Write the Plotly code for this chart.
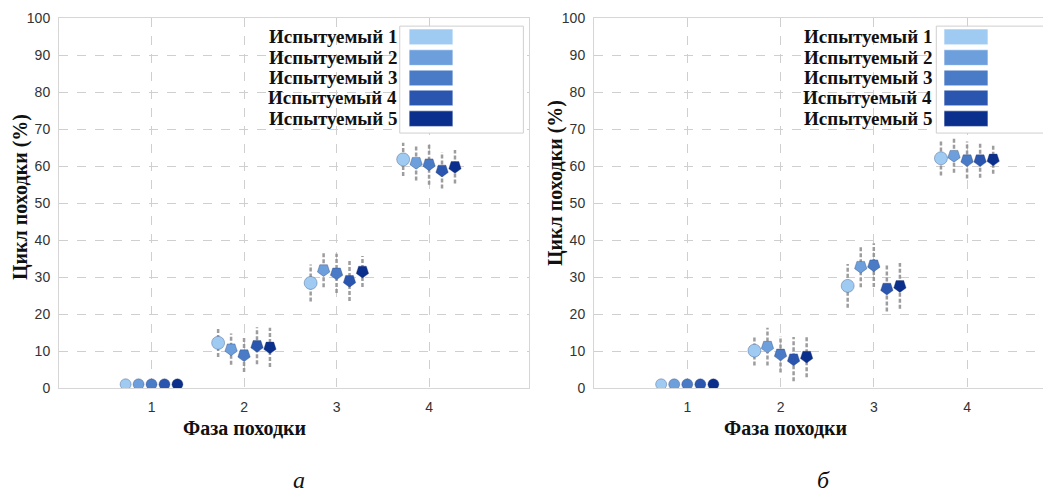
import plotly.graph_objects as go

phases = [1, 2, 3, 4]
subjects = ["Испытуемый 1", "Испытуемый 2", "Испытуемый 3", "Испытуемый 4", "Испытуемый 5"]
colors = ["#9fcbf3", "#6d9fdc", "#4a7bc7", "#2a56b0", "#0b2f8c"]
offsets = [-0.28, -0.14, 0.0, 0.14, 0.28]

# panel а
mean_a = [
    [1.0, 12.2, 28.4, 61.8],
    [1.0, 10.5, 31.9, 60.9],
    [1.0, 8.9, 31.0, 60.5],
    [1.0, 11.4, 29.0, 58.8],
    [1.0, 11.0, 31.5, 59.8],
]
err_a = [
    [0, 3.8, 5.0, 4.5],
    [0, 4.2, 4.7, 4.8],
    [0, 4.6, 5.3, 5.6],
    [0, 5.0, 5.5, 4.9],
    [0, 5.3, 4.2, 4.5],
]
# panel б
mean_b = [
    [1.0, 10.1, 27.6, 62.1],
    [1.0, 11.2, 32.8, 62.8],
    [1.0, 9.1, 33.2, 61.6],
    [1.0, 7.8, 26.9, 61.6],
    [1.0, 8.5, 27.6, 61.8],
]
err_b = [
    [0, 4.0, 5.9, 4.7],
    [0, 5.1, 5.6, 4.6],
    [0, 4.9, 5.9, 5.0],
    [0, 6.0, 6.2, 4.8],
    [0, 5.6, 6.2, 3.9],
]

y_ticks = list(range(0, 101, 10))
x_title = "Фаза походки"
y_title = "Цикл походки (%)"
panel_labels = ["а", "б"]

# page body has an 8px default margin: lay out in window pixels, then convert
OFF = 8
W, H = 1051 - OFF, 493 - OFF


def px(X):
    return (X - OFF) / W


def py(Y):
    return 1 - (Y - OFF) / H


fig = go.Figure()

serif = "Liberation Serif, Times New Roman, serif"
sans = "Liberation Sans, Arial, sans-serif"

panels = [("x", "y", mean_a, err_a), ("x2", "y2", mean_b, err_b)]
for xa, ya, means, errs in panels:
    # error bars
    for si in range(5):
        xs, ys = [], []
        for pi, ph in enumerate(phases):
            e = errs[si][pi]
            if e <= 0:
                continue
            xv = ph + offsets[si]
            m = means[si][pi]
            xs += [xv, xv, None]
            ys += [m - e, m + e, None]
        fig.add_trace(go.Scatter(x=xs, y=ys, mode="lines", xaxis=xa, yaxis=ya,
                                 line=dict(color="rgba(140,140,140,0.85)", width=2.5, dash="4px,2px"),
                                 showlegend=False, hoverinfo="skip"))
    # markers
    for si in range(5):
        xs = [ph + offsets[si] for ph in phases]
        symbols = ["circle" if (si == 0 or pi == 0) else "pentagon" for pi in range(4)]
        angles = [0 if s == "circle" else 180 for s in symbols]
        sizes = [11 if pi == 0 else 13 for pi in range(4)]
        fig.add_trace(go.Scatter(x=xs, y=means[si], mode="markers", xaxis=xa, yaxis=ya,
                                 name=subjects[si], showlegend=False,
                                 marker=dict(color=colors[si], size=sizes, symbol=symbols, angle=angles,
                                             opacity=1,
                                             line=dict(color="rgba(40,60,110,0.35)", width=1))))

axis_common = dict(showgrid=True, gridcolor="#cfcfcf", griddash="dash", gridwidth=1,
                   showline=True, linecolor="#d6d6d6", linewidth=1, mirror=True,
                   zeroline=False, ticks="", tickfont=dict(family=sans, size=14, color="#333"))

yd = [py(388), py(18)]
fig.update_layout(
    width=W, height=H, margin=dict(l=0, r=0, t=0, b=0, autoexpand=False),
    paper_bgcolor="white", plot_bgcolor="white", showlegend=False,
    xaxis=dict(domain=[px(59), px(529)], range=[0, 5.08], tickvals=phases, ticklabelstandoff=6,
               automargin=False, **axis_common),
    yaxis=dict(domain=yd, range=[0, 100], tickvals=y_ticks, ticklabelstandoff=5,
               automargin=False, **axis_common),
    xaxis2=dict(domain=[px(594), 1.0], range=[0, 4.9], tickvals=phases, ticklabelstandoff=6,
                anchor="y2", automargin=False, **axis_common),
    yaxis2=dict(domain=yd, range=[0, 100], tickvals=y_ticks, ticklabelstandoff=5, anchor="x2",
                automargin=False, **axis_common),
)

# legends (custom: labels left of swatches, swatches in a framed box)
leg = [
    dict(xr="x domain", yr="y domain", box=(0.725, 0.988), sw=(0.745, 0.838), lab=0.722),
    dict(xr="x2 domain", yr="y2 domain", box=(0.749, 0.993), sw=(0.766, 0.862), lab=0.742),
]
sw_y = [0.949, 0.893, 0.838, 0.784, 0.728]
for L in leg:
    fig.add_shape(type="rect", xref=L["xr"], yref=L["yr"], x0=L["box"][0], x1=L["box"][1],
                  y0=0.689, y1=0.978, line=dict(color="#cfcfcf", width=1), fillcolor="white", layer="above")
    for si in range(5):
        fig.add_shape(type="rect", xref=L["xr"], yref=L["yr"], x0=L["sw"][0], x1=L["sw"][1],
                      y0=sw_y[si] - 0.021, y1=sw_y[si] + 0.021,
                      line=dict(color="rgba(255,255,255,0.5)", width=1), fillcolor=colors[si], layer="above")
        fig.add_annotation(xref=L["xr"], yref=L["yr"], x=L["lab"], y=sw_y[si], text="<b>%s</b>" % subjects[si],
                           showarrow=False, xanchor="right", yanchor="middle", borderpad=0,
                           font=dict(family=serif, size=19, color="#111"))

# axis titles
for xr, xc, yc_px, xt_px in [("x", 2.0, 197, 21), ("x2", 2.05, 183, 555)]:
    fig.add_annotation(xref=xr, yref="paper", x=xc, y=py(428), text="<b>%s</b>" % x_title,
                       showarrow=False, xanchor="center", yanchor="middle",
                       font=dict(family=serif, size=20, color="#111"))
    fig.add_annotation(xref="paper", yref="paper", x=px(xt_px), y=py(yc_px), text="<b>%s</b>" % y_title,
                       showarrow=False, textangle=-90, xanchor="center", yanchor="middle",
                       font=dict(family=serif, size=20, color="#111"))

for lbl, xp in zip(panel_labels, [299, 823]):
    fig.add_annotation(xref="paper", yref="paper", x=px(xp), y=py(480), text="<i>%s</i>" % lbl,
                       showarrow=False, xanchor="center", yanchor="middle",
                       font=dict(family=serif, size=24, color="#111"))

fig.write_html("out.html")
